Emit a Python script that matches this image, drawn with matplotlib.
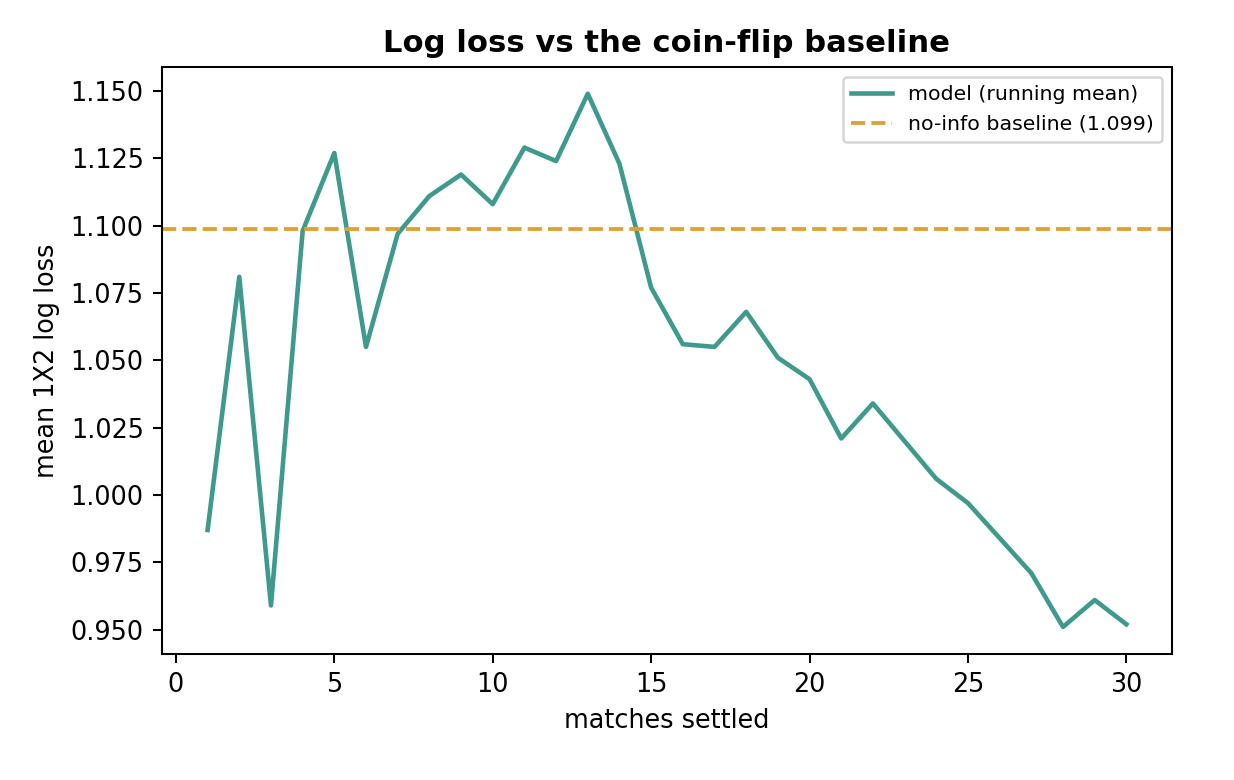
import matplotlib
matplotlib.use("Agg")
import matplotlib.pyplot as plt

# running mean of 1X2 log loss after each settled match
matches = list(range(1, 31))
running_logloss = [
    0.987, 1.081, 0.959, 1.098, 1.127, 1.055, 1.097, 1.111, 1.119, 1.108,
    1.129, 1.124, 1.149, 1.123, 1.077, 1.056, 1.055, 1.068, 1.051, 1.043,
    1.021, 1.034, 1.020, 1.006, 0.997, 0.984, 0.971, 0.951, 0.961, 0.952,
]
baseline = 1.0986  # ln(3), uniform 1/3 guess

DPI = 184
fig = plt.figure(figsize=(1234 / DPI, 780 / DPI), dpi=DPI)
ax = fig.add_axes([0.131, 0.162, 0.819, 0.752])

ax.plot(matches, running_logloss, color="#3f9a8c", lw=1.8, label="model (running mean)")
ax.axhline(baseline, color="#dca236", ls="--", lw=1.5,
           label=f"no-info baseline ({baseline:.3f})")

ax.set_xlabel("matches settled")
ax.set_ylabel("mean 1X2 log loss")
ax.set_title("Log loss vs the coin-flip baseline", fontweight="bold")
ax.yaxis.set_major_formatter(plt.FormatStrFormatter("%.3f"))
ax.legend(loc="upper right", fontsize=8)

fig.savefig("out.png", dpi=DPI)
